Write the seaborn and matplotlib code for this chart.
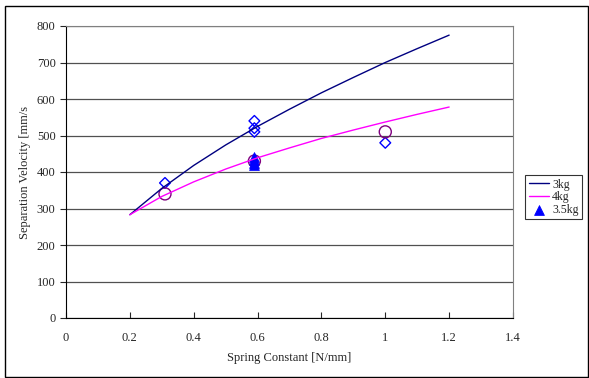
import matplotlib
matplotlib.use('Agg')
import matplotlib.pyplot as plt
import pandas as pd
import seaborn as sns
from matplotlib.patches import Rectangle

# Measured points
x_3kg = [0.31, 0.59, 0.59, 0.59, 1.0]
v_3kg = [370, 540, 520, 510, 480]
x_4kg = [0.31, 0.59, 1.0]
v_4kg = [340, 430, 510]
x_35kg = [0.59, 0.59, 0.59, 0.59]
v_35kg = [440, 432, 425, 420]

# Trend curves
curve_x = [0.2, 0.3, 0.4, 0.5, 0.6, 0.7, 0.8, 0.9, 1.0, 1.1, 1.2]
curve_3kg = [283, 355, 418, 474, 525, 572, 617, 659, 700, 738, 775]
curve_4kg = [283, 333, 373, 408, 439, 466, 492, 515, 537, 558, 578]

x_ticks = [0, 0.2, 0.4, 0.6, 0.8, 1, 1.2, 1.4]
y_ticks = [0, 100, 200, 300, 400, 500, 600, 700, 800]

sns.set_style('white')
plt.rcParams['font.family'] = ['Liberation Serif', 'DejaVu Serif']

fig = plt.figure(figsize=(5.89, 3.78), dpi=100)
ax = fig.add_axes([66 / 589, 1 - 318 / 378, (513 - 66) / 589, (318 - 26) / 378])

df_curves = pd.DataFrame({
    'x': curve_x * 2,
    'v': curve_3kg + curve_4kg,
    'series': ['3kg'] * len(curve_x) + ['4kg'] * len(curve_x),
})
sns.lineplot(data=df_curves, x='x', y='v', hue='series',
             palette={'3kg': '#000080', '4kg': '#FF00FF'}, linewidth=1.0, ax=ax)

sns.scatterplot(x=x_3kg, y=v_3kg, marker='D', s=30, facecolor='none',
                edgecolor='#0000FF', linewidth=1.0, ax=ax, legend=False)
sns.scatterplot(x=x_4kg, y=v_4kg, marker='o', s=75, facecolor='none',
                edgecolor='#800080', linewidth=1.0, ax=ax, legend=False)
sns.scatterplot(x=x_35kg, y=v_35kg, marker='^', s=50, color='#0000FF',
                edgecolor='#0000FF', ax=ax, label='3.5kg')

ax.set_xlim(0, 1.4)
ax.set_ylim(0, 800)
ax.set_xticks(x_ticks)
ax.set_xticklabels(['0', '0.2', '0.4', '0.6', '0.8', '1', '1.2', '1.4'])
ax.set_yticks(y_ticks)
ax.yaxis.grid(True, color='#505050', linewidth=0.9)
ax.set_axisbelow(True)
ax.tick_params(axis='x', direction='in', length=4, width=0.8, labelsize=9, pad=10, bottom=True)
ax.tick_params(axis='y', direction='out', length=4, width=0.8, labelsize=9, left=True)
for side in ['top', 'right']:
    ax.spines[side].set_color('#808080')
for side in ['bottom', 'left']:
    ax.spines[side].set_color('black')
ax.set_xlabel('Spring Constant [N/mm]', fontsize=9, labelpad=6)
ax.set_ylabel('Separation Velocity [mm/s', fontsize=9, labelpad=4)

handles, labels = ax.get_legend_handles_labels()
leg = ax.legend(handles, labels, loc='upper left', bbox_to_anchor=(525 / 589, 1 - 175 / 378),
                bbox_transform=fig.transFigure, fontsize=8.5, frameon=True, fancybox=False,
                handlelength=1.7, handletextpad=0.3, borderpad=0.3, borderaxespad=0,
                labelspacing=0.05)
leg.get_frame().set_edgecolor('black')
leg.get_frame().set_linewidth(0.8)

fig.patches.append(Rectangle((5 / 589, 1 / 378), 583 / 589, 371 / 378, transform=fig.transFigure,
                             fill=False, edgecolor='black', linewidth=1.0))

fig.savefig('out.png', dpi=100)
